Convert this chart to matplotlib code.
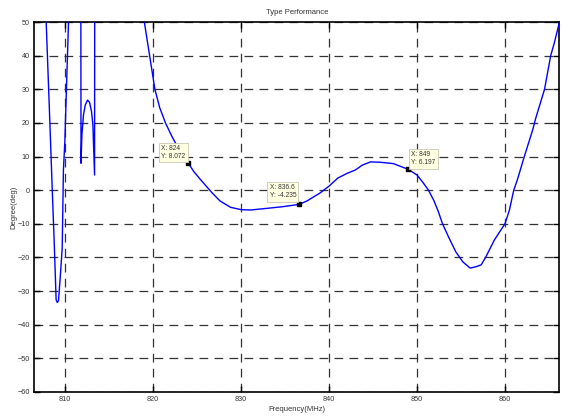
import matplotlib
matplotlib.use('Agg')
import matplotlib.pyplot as plt

# phase response (values above 50 run off the top)
freq = [807.6, 807.84, 808.2, 808.55, 808.75, 808.97, 809.1, 809.24, 809.43, 809.66,
        809.8, 809.96, 810.19, 810.38, 810.6, 811.78, 811.8, 811.9, 812.08, 812.28,
        812.54, 812.77, 813.0, 813.15, 813.34, 813.36, 818.9, 819.0, 819.6, 820.2,
        820.75, 821.4, 822.15, 823.0, 824.0, 824.6, 825.3, 825.9, 826.7, 827.6,
        828.8, 830.0, 831.1, 833.0, 834.8, 836.6, 837.5, 839.0, 840.0, 841.0,
        842.05, 843.0, 843.75, 844.7, 845.8, 847.3, 849.0, 850.0, 850.7, 851.3,
        851.9, 852.4, 852.9, 853.6, 854.4, 855.2, 856.05, 856.8, 857.3, 857.8,
        858.8, 860.0, 860.5, 861.0, 861.4, 862.2, 863.15, 863.5, 864.5, 865.2,
        865.6, 866.2]
phase = [60, 50, 24.3, -1.4, -15.3, -32.6, -33.4, -32.9, -26.2, -17.3,
         6.0, 14.4, 34.2, 50, 60, 60, 8.0, 16.4, 22.4, 25.3,
         26.8, 26.1, 23.3, 19.4, 4.5, 60, 60, 50, 40, 30,
         24.5, 20, 15.9, 11.8, 8.072, 5.6, 3.4, 1.6, -0.8, -3.2,
         -5.1, -5.8, -5.9, -5.4, -4.9, -4.235, -3.2, -0.8, 1.2, 3.6,
         5.0, 6.0, 7.4, 8.4, 8.3, 7.9, 6.197, 4.5, 2.2, 0.0,
         -3.0, -6.2, -10.0, -14.0, -18.3, -21.3, -23.2, -22.7, -22.2, -20.0,
         -14.8, -10.0, -6.0, 0.0, 3.0, 10.0, 17.9, 21.4, 30.0, 40.0,
         43.7, 50]

tip_x = [824, 836.6, 849]
tip_y = [8.072, -4.235, 6.197]
tip_labels = ['X: 824\nY: 8.072', 'X: 836.6\nY: -4.235', 'X: 849\nY: 6.197']
tip_offsets = [(-3, 3, 'right'), (-3, 5, 'right'), (3, 3, 'left')]

plt.rcParams['font.family'] = ['Liberation Sans Narrow', 'Liberation Sans', 'DejaVu Sans']

fig = plt.figure(figsize=(5.66, 4.16), dpi=100)
ax = fig.add_axes([0.060, 0.058, 0.9285, 0.889])

ax.plot(freq, phase, color='#0000ff', linewidth=1.0, zorder=3)
ax.plot(tip_x, tip_y, 's', color='black', markersize=3.5, zorder=4)

for x, y, label, (dx, dy, ha) in zip(tip_x, tip_y, tip_labels, tip_offsets):
    ax.annotate(label, (x, y), xytext=(dx, dy), textcoords='offset pixels',
                ha=ha, va='bottom', multialignment='left', fontsize=4.8,
                color='#333333', zorder=5,
                bbox=dict(boxstyle='square,pad=0.35', facecolor='#ffffe1',
                          edgecolor='#c8c8b4', linewidth=0.6))

ax.set_xlim(806.45, 866.2)
ax.set_ylim(-60, 50)
ax.set_xticks([810, 820, 830, 840, 850, 860])
ax.set_yticks(range(-60, 51, 10))
ax.tick_params(direction='in', length=4, width=1, labelsize=5.2,
               labelcolor='#333333', top=True, right=True, pad=3)
ax.grid(True, color='#333333', linestyle=(0, (7, 5)), linewidth=0.9)
for s in ax.spines.values():
    s.set_linewidth(1.2)

ax.set_title('Type Performance', fontsize=5.5, color='#333333', pad=6)
ax.set_xlabel('Frequency(MHz)', fontsize=5.5, color='#333333', labelpad=2)
ax.set_ylabel('Degree(deg)', fontsize=5.5, color='#333333', labelpad=0)

fig.savefig('out.png', dpi=100)
